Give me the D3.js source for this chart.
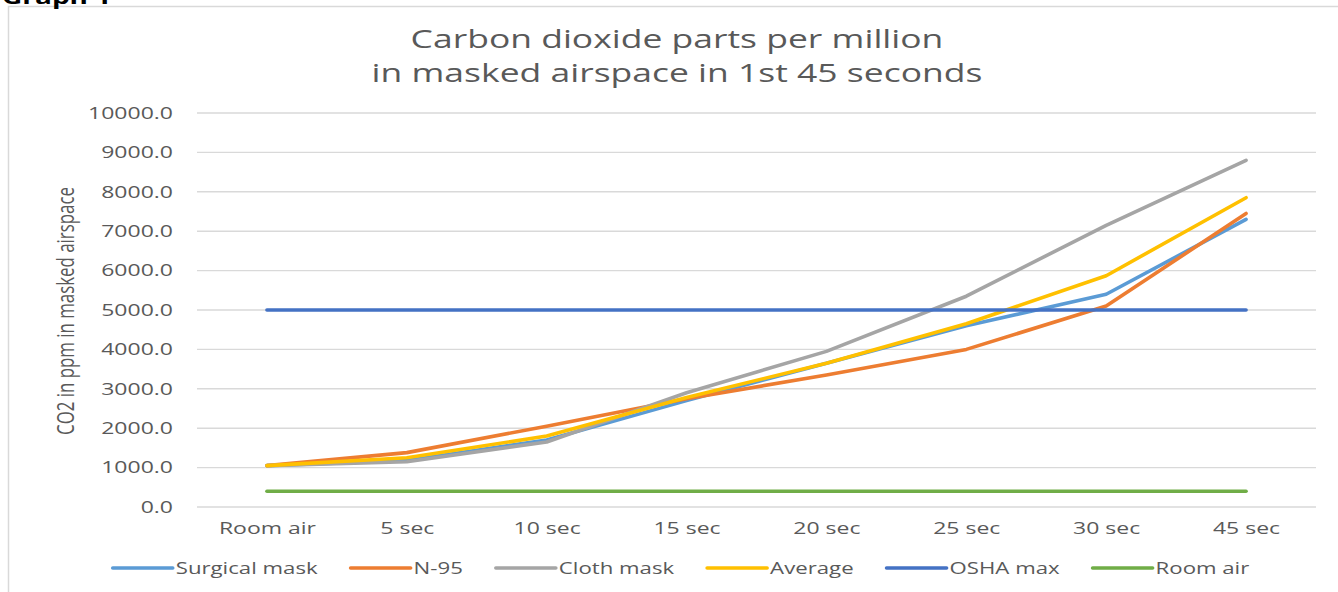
<!DOCTYPE html>
<html><head><meta charset="utf-8">
<script src="https://cdn.jsdelivr.net/npm/d3@7"></script>
<style>
body{margin:0;background:#fff;}
svg{display:block;}
text{font-family:'Open Sans',sans-serif;fill:#595959;}
</style>
</head><body>
<svg id="c" width="1338" height="592"></svg>
<script>
// ---------- data ----------
const categories = ["Room air","5 sec","10 sec","15 sec","20 sec","25 sec","30 sec","45 sec"];
const surgicalMask = [1050,1180,1700,2700,3650,4600,5400,7300];
const n95          = [1050,1380,2050,2750,3350,4000,5100,7450];
const clothMask    = [1050,1150,1650,2900,3950,5350,7150,8800];
const average      = [1050,1250,1800,2780,3650,4650,5870,7850];
const oshaMax      = [5000,5000,5000,5000,5000,5000,5000,5000];
const roomAir      = [400,400,400,400,400,400,400,400];
const seriesNames  = ["Surgical mask","N-95","Cloth mask","Average","OSHA max","Room air"];
const seriesColors = ["#5B9BD5","#ED7D31","#A5A5A5","#FFC000","#4472C4","#70AD47"];
const yTicks = [0,1000,2000,3000,4000,5000,6000,7000,8000,9000,10000];
const titleLines = ["Carbon dioxide parts per million","in masked airspace in 1st 45 seconds"];
const yAxisTitle = "CO2 in ppm in masked airspace";
const pageLabel = "Graph 1";

const seriesValues = [surgicalMask,n95,clothMask,average,oshaMax,roomAir];

// ---------- layout ----------
const svg = d3.select("#c");
const SX = 1.4; // horizontal stretch of the source image
const plot = {left:197, right:1316, top:113, bottom:507};

function measure(str,size,weight){
  const t = svg.append("text").attr("font-size",size).attr("font-weight",weight||400).text(str);
  const w = t.node().getComputedTextLength(); t.remove(); return w;
}
function stretch(sel,f){
  sel.each(function(){
    const t=d3.select(this); const x=+t.attr("x")||0;
    t.attr("transform",`translate(${x*(1-f)},0) scale(${f},1)`);
  });
}
const tickSize   = 85/(SX*measure("10000.0",100)/100);
const legendSize = 142/(SX*measure("Surgical mask",100)/100);
const titleSize  = 611/(SX*measure(titleLines[1],100)/100);
const yTitleSize = 248/(measure(yAxisTitle,100)/100);

// chart border
svg.append("rect").attr("x",8.5).attr("y",6.5).attr("width",1360).attr("height",620)
  .attr("fill","#fff").attr("stroke","#D9D9D9").attr("stroke-width",1.5);

// page label (clipped at the top, as in the source)
const pl = svg.append("text").attr("x",2).attr("y",4).attr("font-size",20).attr("font-weight",700)
  .style("fill","#000").text(pageLabel);
stretch(pl,SX);

// scales
const x = d3.scalePoint().domain(categories).range([plot.left,plot.right]).padding(0.5);
const y = d3.scaleLinear().domain([0,10000]).range([plot.bottom,plot.top]);

// gridlines
svg.append("g").selectAll("line").data(yTicks).join("line")
  .attr("x1",plot.left).attr("x2",plot.right)
  .attr("y1",d=>y(d)).attr("y2",d=>y(d))
  .attr("stroke","#D9D9D9").attr("stroke-width",1.4);

// y axis
const yAxis = svg.append("g").attr("transform",`translate(${plot.left},0)`)
  .call(d3.axisLeft(y).tickValues(yTicks).tickFormat(d3.format(".1f")).tickSize(0).tickPadding(24));
yAxis.select(".domain").remove();
yAxis.selectAll("text").attr("font-size",tickSize).style("fill","#595959").attr("font-family","'Open Sans',sans-serif");
stretch(yAxis.selectAll("text"),SX);

// x axis
const xAxis = svg.append("g").attr("transform",`translate(0,${plot.bottom})`)
  .call(d3.axisBottom(x).tickSize(0).tickPadding(15));
xAxis.select(".domain").remove();
xAxis.selectAll("text").attr("font-size",tickSize).style("fill","#595959").attr("font-family","'Open Sans',sans-serif");
stretch(xAxis.selectAll("text"),SX);

// y axis title
svg.append("text").attr("transform",`translate(65,311) scale(${SX},1) rotate(-90)`)
  .attr("text-anchor","middle").attr("dominant-baseline","central")
  .attr("font-size",yTitleSize).text(yAxisTitle);

// title
const tt = svg.append("g").selectAll("text").data(titleLines).join("text")
  .attr("x",677).attr("y",(d,i)=>48+i*34).attr("text-anchor","middle")
  .attr("font-size",titleSize).text(d=>d);
stretch(tt,SX);

// lines
const line = d3.line().x((d,i)=>x(categories[i])).y(d=>y(d));
svg.append("g").selectAll("path").data(seriesValues).join("path")
  .attr("d",d=>line(d)).attr("fill","none")
  .attr("stroke",(d,i)=>seriesColors[i]).attr("stroke-width",3.6)
  .attr("stroke-linecap","round").attr("stroke-linejoin","round");

// legend
const lg = svg.append("g");
const lineLen=60, gapTxt=3, gapItem=33, legY=568;
let cx=0;
seriesNames.forEach((n,i)=>{
  const g=lg.append("g");
  g.append("line").attr("x1",cx).attr("x2",cx+lineLen).attr("y1",legY).attr("y2",legY)
    .attr("stroke",seriesColors[i]).attr("stroke-width",3.6).attr("stroke-linecap","round");
  const t=g.append("text").attr("x",cx+lineLen+gapTxt).attr("y",legY).attr("dominant-baseline","central")
    .attr("font-size",legendSize).text(n);
  const w=t.node().getComputedTextLength()*SX;
  stretch(t,SX);
  cx += lineLen+gapTxt+w+gapItem;
});
const total = cx-gapItem;
lg.attr("transform",`translate(${681-total/2},0)`);
</script>
</body></html>
